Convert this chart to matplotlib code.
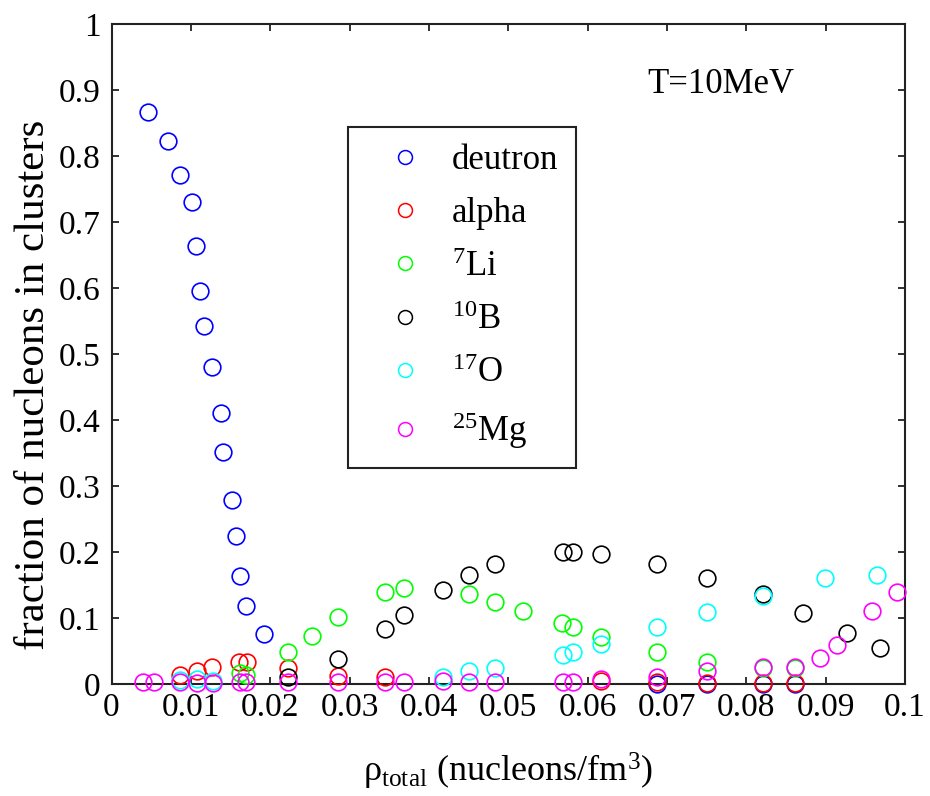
import matplotlib
matplotlib.use("Agg")
import matplotlib.pyplot as plt
from matplotlib.lines import Line2D

plt.rcParams['font.family'] = ['Liberation Serif', 'DejaVu Serif']
plt.rcParams['mathtext.fontset'] = 'custom'
plt.rcParams['mathtext.rm'] = 'Liberation Serif'
plt.rcParams['mathtext.it'] = 'Liberation Serif:italic'
plt.rcParams['mathtext.bf'] = 'Liberation Serif:bold'

# ---- data: fraction of nucleons bound in each cluster species vs total density ----
deuteron_x = [0.00464, 0.00716, 0.00863, 0.01014, 0.01069, 0.01115, 0.01166, 0.01270,
              0.01376, 0.01401, 0.01522, 0.01569, 0.01623, 0.01691, 0.01926,
              0.06871, 0.07501, 0.08214, 0.08614]
deuteron_y = [0.866, 0.823, 0.772, 0.730, 0.663, 0.596, 0.542, 0.481,
              0.411, 0.351, 0.279, 0.224, 0.164, 0.118, 0.076,
              0.000, 0.000, 0.000, 0.000]

alpha_x = [0.00863, 0.01074, 0.01270, 0.01611, 0.01704, 0.02228, 0.02858, 0.03447,
           0.06165, 0.06871, 0.07501, 0.08214, 0.08614]
alpha_y = [0.014, 0.019, 0.026, 0.033, 0.033, 0.024, 0.012, 0.011,
           0.005, 0.003, 0.002, 0.002, 0.002]

li7_x = [0.01619, 0.01695, 0.02228, 0.02531, 0.02858, 0.03447, 0.03690, 0.04505,
         0.04833, 0.05182, 0.05681, 0.05820, 0.06165, 0.06871, 0.07501, 0.08214, 0.08614]
li7_y = [0.016, 0.014, 0.049, 0.073, 0.101, 0.139, 0.145, 0.137,
         0.125, 0.110, 0.092, 0.086, 0.071, 0.049, 0.034, 0.024, 0.024]

b10_x = [0.02228, 0.02858, 0.03447, 0.03690, 0.04174, 0.04505, 0.04833, 0.05694,
         0.05820, 0.06165, 0.06871, 0.07501, 0.08214, 0.08711, 0.09265, 0.09685]
b10_y = [0.011, 0.038, 0.083, 0.104, 0.143, 0.165, 0.182, 0.200,
         0.200, 0.197, 0.182, 0.161, 0.137, 0.107, 0.077, 0.055]

o17_x = [0.00863, 0.01074, 0.01275, 0.04174, 0.04505, 0.04833, 0.05694, 0.05820,
         0.06165, 0.06871, 0.07501, 0.08214, 0.08992, 0.09643]
o17_y = [0.006, 0.008, 0.004, 0.011, 0.019, 0.024, 0.044, 0.049,
         0.060, 0.086, 0.109, 0.134, 0.161, 0.165]

mg25_x = [0.00401, 0.00539, 0.00863, 0.01074, 0.01275, 0.01619, 0.01691, 0.02228,
          0.02858, 0.03447, 0.03690, 0.04174, 0.04505, 0.04833, 0.05694, 0.05820,
          0.06165, 0.06871, 0.07501, 0.08214, 0.08614, 0.08929, 0.09147, 0.09582, 0.09904]
mg25_y = [0.003, 0.003, 0.003, 0.001, 0.001, 0.003, 0.003, 0.003,
          0.003, 0.003, 0.003, 0.005, 0.003, 0.003, 0.003, 0.003,
          0.008, 0.011, 0.019, 0.026, 0.026, 0.039, 0.059, 0.110, 0.139]

series = [
    ('deutron', deuteron_x, deuteron_y, '#0000ff'),
    ('alpha', alpha_x, alpha_y, '#ff0000'),
    (r'$^{7}$Li', li7_x, li7_y, '#00ff00'),
    (r'$^{10}$B', b10_x, b10_y, '#000000'),
    (r'$^{17}$O', o17_x, o17_y, '#00ffff'),
    (r'$^{25}$Mg', mg25_x, mg25_y, '#ff00ff'),
]

x_ticks = [0, 0.01, 0.02, 0.03, 0.04, 0.05, 0.06, 0.07, 0.08, 0.09, 0.1]
x_ticklabels = ['0', '0.01', '0.02', '0.03', '0.04', '0.05', '0.06', '0.07', '0.08', '0.09', '0.1']
y_ticks = [0, 0.1, 0.2, 0.3, 0.4, 0.5, 0.6, 0.7, 0.8, 0.9, 1]
y_ticklabels = ['0', '0.1', '0.2', '0.3', '0.4', '0.5', '0.6', '0.7', '0.8', '0.9', '1']

fig = plt.figure(figsize=(9.30, 7.96), dpi=100)
ax = fig.add_axes([0.1199, 0.1407, 0.8532, 0.8291])

handles = []
for label, xs, ys, color in series:
    ax.plot(xs, ys, linestyle='none', marker='o', markersize=12,
            markerfacecolor='none', markeredgecolor=color, markeredgewidth=1.2,
            clip_on=False, zorder=3)
    handles.append(Line2D([], [], linestyle='none', marker='o', markersize=10,
                          markerfacecolor='none', markeredgecolor=color,
                          markeredgewidth=1.1, label=label))

ax.set_xlim(0, 0.1)
ax.set_ylim(0, 1)
ax.set_xticks(x_ticks)
ax.set_xticklabels(x_ticklabels)
ax.set_yticks(y_ticks)
ax.set_yticklabels(y_ticklabels)

for side in ax.spines.values():
    side.set_linewidth(1.5)
    side.set_color('#222222')
ax.tick_params(axis='both', which='both', direction='in', length=5, width=1.3,
               color='#222222', top=True, right=True, labelsize=24)
ax.tick_params(axis='x', pad=6)
ax.tick_params(axis='y', pad=8)

ax.set_xlabel('ρ$_{\\mathrm{total}}$ (nucleons/fm$^{3}$)', fontsize=26, labelpad=20)
fig.text(34 / 930, 1 - 385 / 796, 'fraction of nucleons in clusters', fontsize=31,
         rotation=90, ha='center', va='center')

fig.text(647 / 930, 1 - 93 / 796, 'T=10MeV', fontsize=25, ha='left', va='baseline')

leg = ax.legend(handles=handles, loc='upper left',
                bbox_to_anchor=(348 / 930, 1 - 127 / 796), bbox_transform=fig.transFigure,
                borderaxespad=0, fontsize=25, frameon=True, fancybox=False,
                edgecolor='#222222', framealpha=1, borderpad=0.5,
                handlelength=2.3, handletextpad=0.2, labelspacing=0.58)
leg.get_frame().set_linewidth(1.5)

fig.savefig('out.png', dpi=100)
